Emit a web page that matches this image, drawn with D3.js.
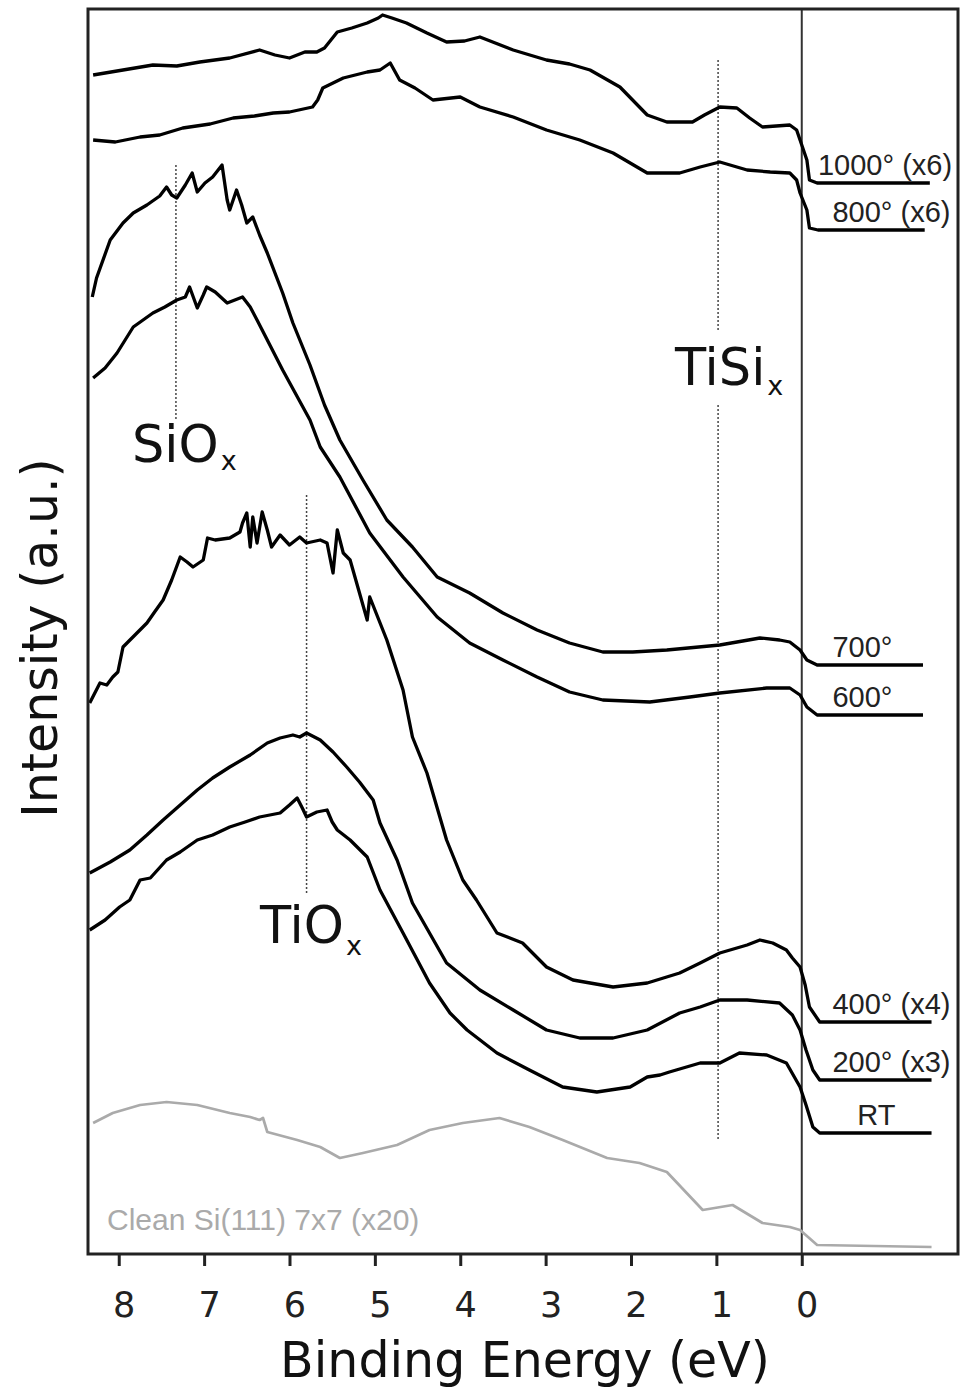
<!DOCTYPE html>
<html>
<head>
<meta charset="utf-8">
<script src="https://cdn.jsdelivr.net/npm/d3@7"></script>
<style>
  body { margin: 0; background: #fff; }
  svg { display: block; }
</style>
</head>
<body>
<div id="chart"></div>
<script>
// Valence band spectra, binding energy (eV) vs intensity (a.u.)
const t1000 = [[8.30,117.9],[7.95,118.4],[7.60,118.9],[7.32,118.8],[7.05,119.2],[6.70,119.6],[6.35,120.4],[6.17,119.9],[6.00,119.6],[5.82,120.2],[5.68,120.2],[5.59,120.6],[5.44,122.2],[5.27,122.6],[5.09,123.1],[4.96,123.6],[4.91,123.9],[4.80,123.6],[4.63,123.1],[4.39,122.1],[4.16,121.2],[3.95,121.3],[3.77,121.7],[3.38,120.4],[2.99,119.4],[2.72,119.0],[2.48,118.4],[2.13,116.7],[1.81,113.9],[1.58,113.2],[1.28,113.2],[1.14,113.9],[0.96,114.7],[0.76,114.6],[0.61,113.6],[0.46,112.7],[0.14,112.9],[0.06,112.4],[0.02,111.4],[-0.06,109.4],[-0.09,107.4],[-0.18,107.1],[-1.50,107.1]];
const t800 = [[8.30,111.4],[8.04,111.2],[7.75,111.7],[7.52,111.9],[7.25,112.6],[6.93,113.0],[6.66,113.6],[6.41,113.8],[6.19,114.1],[6.00,114.2],[5.73,114.7],[5.67,115.4],[5.61,116.6],[5.37,117.6],[5.09,118.2],[4.94,118.4],[4.82,119.1],[4.71,117.4],[4.53,116.6],[4.32,115.4],[4.00,115.7],[3.77,114.7],[3.38,113.7],[2.99,112.4],[2.60,111.4],[2.21,110.1],[1.81,108.1],[1.43,108.1],[1.19,108.7],[0.96,109.2],[0.64,108.4],[0.37,108.2],[0.14,108.1],[0.06,107.4],[0.02,106.1],[-0.06,104.4],[-0.09,102.6],[-0.19,102.4],[-1.44,102.4]];
const t700 = [[8.31,95.7],[8.26,97.6],[8.10,101.4],[7.95,103.1],[7.83,104.1],[7.67,104.9],[7.52,105.8],[7.44,106.7],[7.38,105.9],[7.32,105.6],[7.22,106.9],[7.14,108.1],[7.08,106.2],[6.99,107.1],[6.90,107.7],[6.79,108.9],[6.73,105.4],[6.70,104.4],[6.62,106.4],[6.56,104.9],[6.50,103.1],[6.43,103.7],[6.35,101.9],[6.26,100.1],[6.08,96.1],[5.96,93.1],[5.76,88.9],[5.59,84.9],[5.41,81.4],[5.14,77.4],[4.86,73.4],[4.56,70.7],[4.27,67.7],[3.89,66.1],[3.50,64.1],[3.10,62.4],[2.72,61.1],[2.33,60.2],[1.98,60.2],[1.58,60.4],[0.96,60.9],[0.49,61.6],[0.26,61.4],[0.14,61.2],[0.02,60.4],[-0.06,59.4],[-0.18,58.9],[-1.42,58.9]];
const t600 = [[8.30,87.6],[8.16,88.6],[8.02,90.1],[7.83,92.7],[7.60,94.1],[7.46,94.7],[7.32,95.4],[7.22,95.7],[7.17,96.7],[7.08,94.6],[7.01,95.9],[6.97,96.7],[6.87,96.2],[6.73,95.1],[6.64,95.4],[6.55,95.7],[6.46,94.7],[6.38,93.4],[6.23,90.9],[6.08,88.4],[5.76,83.4],[5.64,80.7],[5.41,77.7],[5.06,72.1],[4.67,67.7],[4.27,63.7],[3.89,61.1],[3.50,59.4],[3.10,57.7],[2.72,56.2],[2.33,55.4],[1.78,55.2],[1.31,55.7],[0.96,56.1],[0.41,56.6],[0.14,56.6],[0.02,55.9],[-0.06,54.7],[-0.18,53.9],[-1.42,53.9]];
const t400 = [[8.34,55.1],[8.22,57.1],[8.14,56.9],[8.07,57.7],[8.01,58.2],[7.95,60.7],[7.81,61.9],[7.67,63.1],[7.58,64.2],[7.48,65.4],[7.38,67.4],[7.28,69.7],[7.20,69.2],[7.13,68.7],[7.01,69.4],[6.96,71.6],[6.87,71.4],[6.70,71.6],[6.58,72.2],[6.55,73.1],[6.50,74.1],[6.46,70.7],[6.43,73.7],[6.38,71.1],[6.32,74.2],[6.26,72.4],[6.21,70.7],[6.11,71.9],[6.00,70.9],[5.88,71.7],[5.80,71.1],[5.64,71.4],[5.56,71.1],[5.49,68.1],[5.44,72.4],[5.37,70.1],[5.29,69.4],[5.18,66.1],[5.09,63.4],[5.06,65.7],[4.86,61.4],[4.67,56.4],[4.56,51.7],[4.39,48.1],[4.16,41.4],[3.97,37.4],[3.81,35.4],[3.57,32.1],[3.27,31.1],[2.99,28.7],[2.68,27.4],[2.21,26.7],[1.81,27.1],[1.43,28.1],[1.19,29.1],[0.96,30.1],[0.64,30.9],[0.49,31.4],[0.34,31.1],[0.18,30.4],[0.11,29.6],[0.02,28.7],[-0.04,26.9],[-0.09,24.7],[-0.21,23.2],[-1.52,23.2]];
const t200 = [[8.34,38.1],[8.10,39.2],[7.87,40.4],[7.67,41.9],[7.48,43.4],[7.28,44.9],[7.08,46.4],[6.90,47.6],[6.70,48.7],[6.46,49.9],[6.26,51.1],[6.11,51.6],[5.96,51.9],[5.88,51.7],[5.80,52.1],[5.64,51.4],[5.49,50.2],[5.33,48.7],[5.18,47.2],[5.02,45.4],[4.94,43.1],[4.74,39.4],[4.56,35.1],[4.16,29.1],[3.77,26.4],[3.38,24.4],[2.99,22.4],[2.60,21.6],[2.21,21.6],[1.81,22.4],[1.43,24.1],[1.19,24.7],[0.96,25.4],[0.64,25.4],[0.26,25.1],[0.11,23.9],[0.02,22.4],[-0.05,20.4],[-0.13,18.4],[-0.21,17.4],[-1.52,17.4]];
const tRT = [[8.34,32.4],[8.16,33.4],[7.99,34.7],[7.87,35.4],[7.75,37.4],[7.63,37.6],[7.44,39.4],[7.28,40.2],[7.08,41.4],[6.90,41.9],[6.70,42.7],[6.52,43.2],[6.35,43.7],[6.23,43.9],[6.11,44.1],[6.00,44.9],[5.91,45.6],[5.85,44.6],[5.80,43.7],[5.68,44.2],[5.56,44.4],[5.50,43.2],[5.44,42.4],[5.29,41.4],[5.09,39.7],[4.94,36.4],[4.67,32.1],[4.36,27.1],[4.12,24.1],[3.92,22.4],[3.57,20.1],[3.19,18.4],[2.80,16.7],[2.40,16.2],[2.01,16.7],[1.81,17.7],[1.66,17.9],[1.55,18.2],[1.19,19.1],[0.96,19.1],[0.73,20.1],[0.41,19.9],[0.18,19.1],[0.02,16.7],[-0.05,14.9],[-0.13,12.7],[-0.21,12.1],[-1.52,12.1]];
const tClean = [[8.30,13.1],[8.07,14.1],[7.75,14.9],[7.44,15.2],[7.08,14.9],[6.70,14.1],[6.46,13.7],[6.35,13.4],[6.31,13.6],[6.26,12.2],[5.91,11.4],[5.64,10.7],[5.41,9.6],[5.14,10.1],[4.74,10.9],[4.36,12.4],[3.97,13.1],[3.54,13.6],[3.19,12.7],[2.80,11.4],[2.28,9.6],[1.90,9.1],[1.58,8.2],[1.16,4.4],[0.81,4.9],[0.46,3.1],[0.14,2.7],[0.02,2.4],[-0.18,0.9],[-1.52,0.7]];

const traceNames = ["1000° (x6)", "800° (x6)", "700°", "600°", "400° (x4)", "200° (x3)", "RT", "Clean Si(111) 7x7 (x20)"];
const traceData = [t1000, t800, t700, t600, t400, t200, tRT, tClean];

const xTicks = [8, 7, 6, 5, 4, 3, 2, 1, 0];

// peak markers: energy, and intensity range of the dotted line segments
const markerNames = ["SiO", "TiO", "TiSi"];
const markerEnergy = [7.33, 5.80, 0.98];
const markerSegments = [[[108.9, 83.4]], [[75.9, 35.9]], [[119.4, 92.4], [84.9, 11.4]]];

// layout
const W = 960, H = 1392;
const frame = { left: 88, top: 9, right: 958, bottom: 1254 };
const mainFont = "'DejaVu Sans', sans-serif";
const labelFont = "'Liberation Sans', Arial, sans-serif";

const svg = d3.select("#chart").append("svg")
  .attr("width", W)
  .attr("height", H);

const x = d3.scaleLinear().domain([8.36, -1.83]).range([frame.left, frame.right]);
const y = d3.scaleLinear().domain([0, 124.5]).range([frame.bottom, frame.top]);

const line = d3.line()
  .x(d => x(d[0]))
  .y(d => y(d[1]));

// zero line
svg.append("line")
  .attr("x1", x(0)).attr("x2", x(0))
  .attr("y1", frame.top).attr("y2", frame.bottom)
  .attr("stroke", "#333")
  .attr("stroke-width", 2);

// dotted peak markers
markerEnergy.forEach((e, i) => {
  markerSegments[i].forEach(seg => {
    svg.append("line")
      .attr("x1", x(e)).attr("x2", x(e))
      .attr("y1", y(seg[0])).attr("y2", y(seg[1]))
      .attr("stroke", "#444")
      .attr("stroke-width", 1.5)
      .attr("stroke-dasharray", "2,2");
  });
});

// spectra
traceData.forEach((d, i) => {
  const clean = i === traceData.length - 1;
  svg.append("path")
    .datum(d)
    .attr("d", line)
    .attr("fill", "none")
    .attr("stroke", clean ? "#aaa" : "#000")
    .attr("stroke-width", clean ? 2.7 : 3.3)
    .attr("stroke-linejoin", "round");
});

// temperature labels above the tails
const labelX = [-0.19, -0.36, -0.36, -0.36, -0.36, -0.36, -0.65];
traceNames.slice(0, 7).forEach((name, i) => {
  const d = traceData[i];
  svg.append("text")
    .attr("x", x(labelX[i]))
    .attr("y", y(d[d.length - 1][1]) - 8)
    .style("font-family", labelFont)
    .style("font-size", "29px")
    .style("fill", "#222")
    .text(name);
});

svg.append("text")
  .attr("x", 107)
  .attr("y", 1230)
  .style("font-family", labelFont)
  .style("font-size", "30px")
  .style("fill", "#aaa")
  .text(traceNames[7]);

// peak labels
const markerLabelPos = [[132, 462, 8], [260, 943, 12], [675, 385, 10]];
markerNames.forEach((name, i) => {
  const p = markerLabelPos[i];
  const t = svg.append("text")
    .attr("x", p[0])
    .attr("y", p[1])
    .style("font-family", mainFont)
    .style("font-size", "51px")
    .style("fill", "#111");
  t.append("tspan").text(name);
  t.append("tspan")
    .attr("dx", 2)
    .attr("dy", p[2])
    .style("font-size", "27px")
    .text("x");
});

// frame
svg.append("rect")
  .attr("x", frame.left).attr("y", frame.top)
  .attr("width", frame.right - frame.left)
  .attr("height", frame.bottom - frame.top)
  .attr("fill", "none")
  .attr("stroke", "#222")
  .attr("stroke-width", 3);

// x axis
const xAxis = svg.append("g")
  .attr("transform", `translate(0, ${frame.bottom})`)
  .call(d3.axisBottom(x).tickValues(xTicks).tickSize(12).tickPadding(26).tickFormat(d3.format("d")));

xAxis.select(".domain").remove();
xAxis.selectAll(".tick line")
  .attr("stroke", "#222")
  .attr("stroke-width", 3);
xAxis.selectAll(".tick text")
  .attr("dx", 5)
  .style("font-family", mainFont)
  .style("font-size", "35px")
  .style("fill", "#222");

// axis titles
svg.append("text")
  .attr("x", 525)
  .attr("y", 1377)
  .attr("text-anchor", "middle")
  .style("font-family", mainFont)
  .style("font-size", "49px")
  .style("fill", "#111")
  .text("Binding Energy (eV)");

svg.append("text")
  .attr("transform", "translate(57, 638) rotate(-90)")
  .attr("text-anchor", "middle")
  .style("font-family", mainFont)
  .style("font-size", "49px")
  .style("fill", "#111")
  .text("Intensity (a.u.)");
</script>
</body>
</html>
